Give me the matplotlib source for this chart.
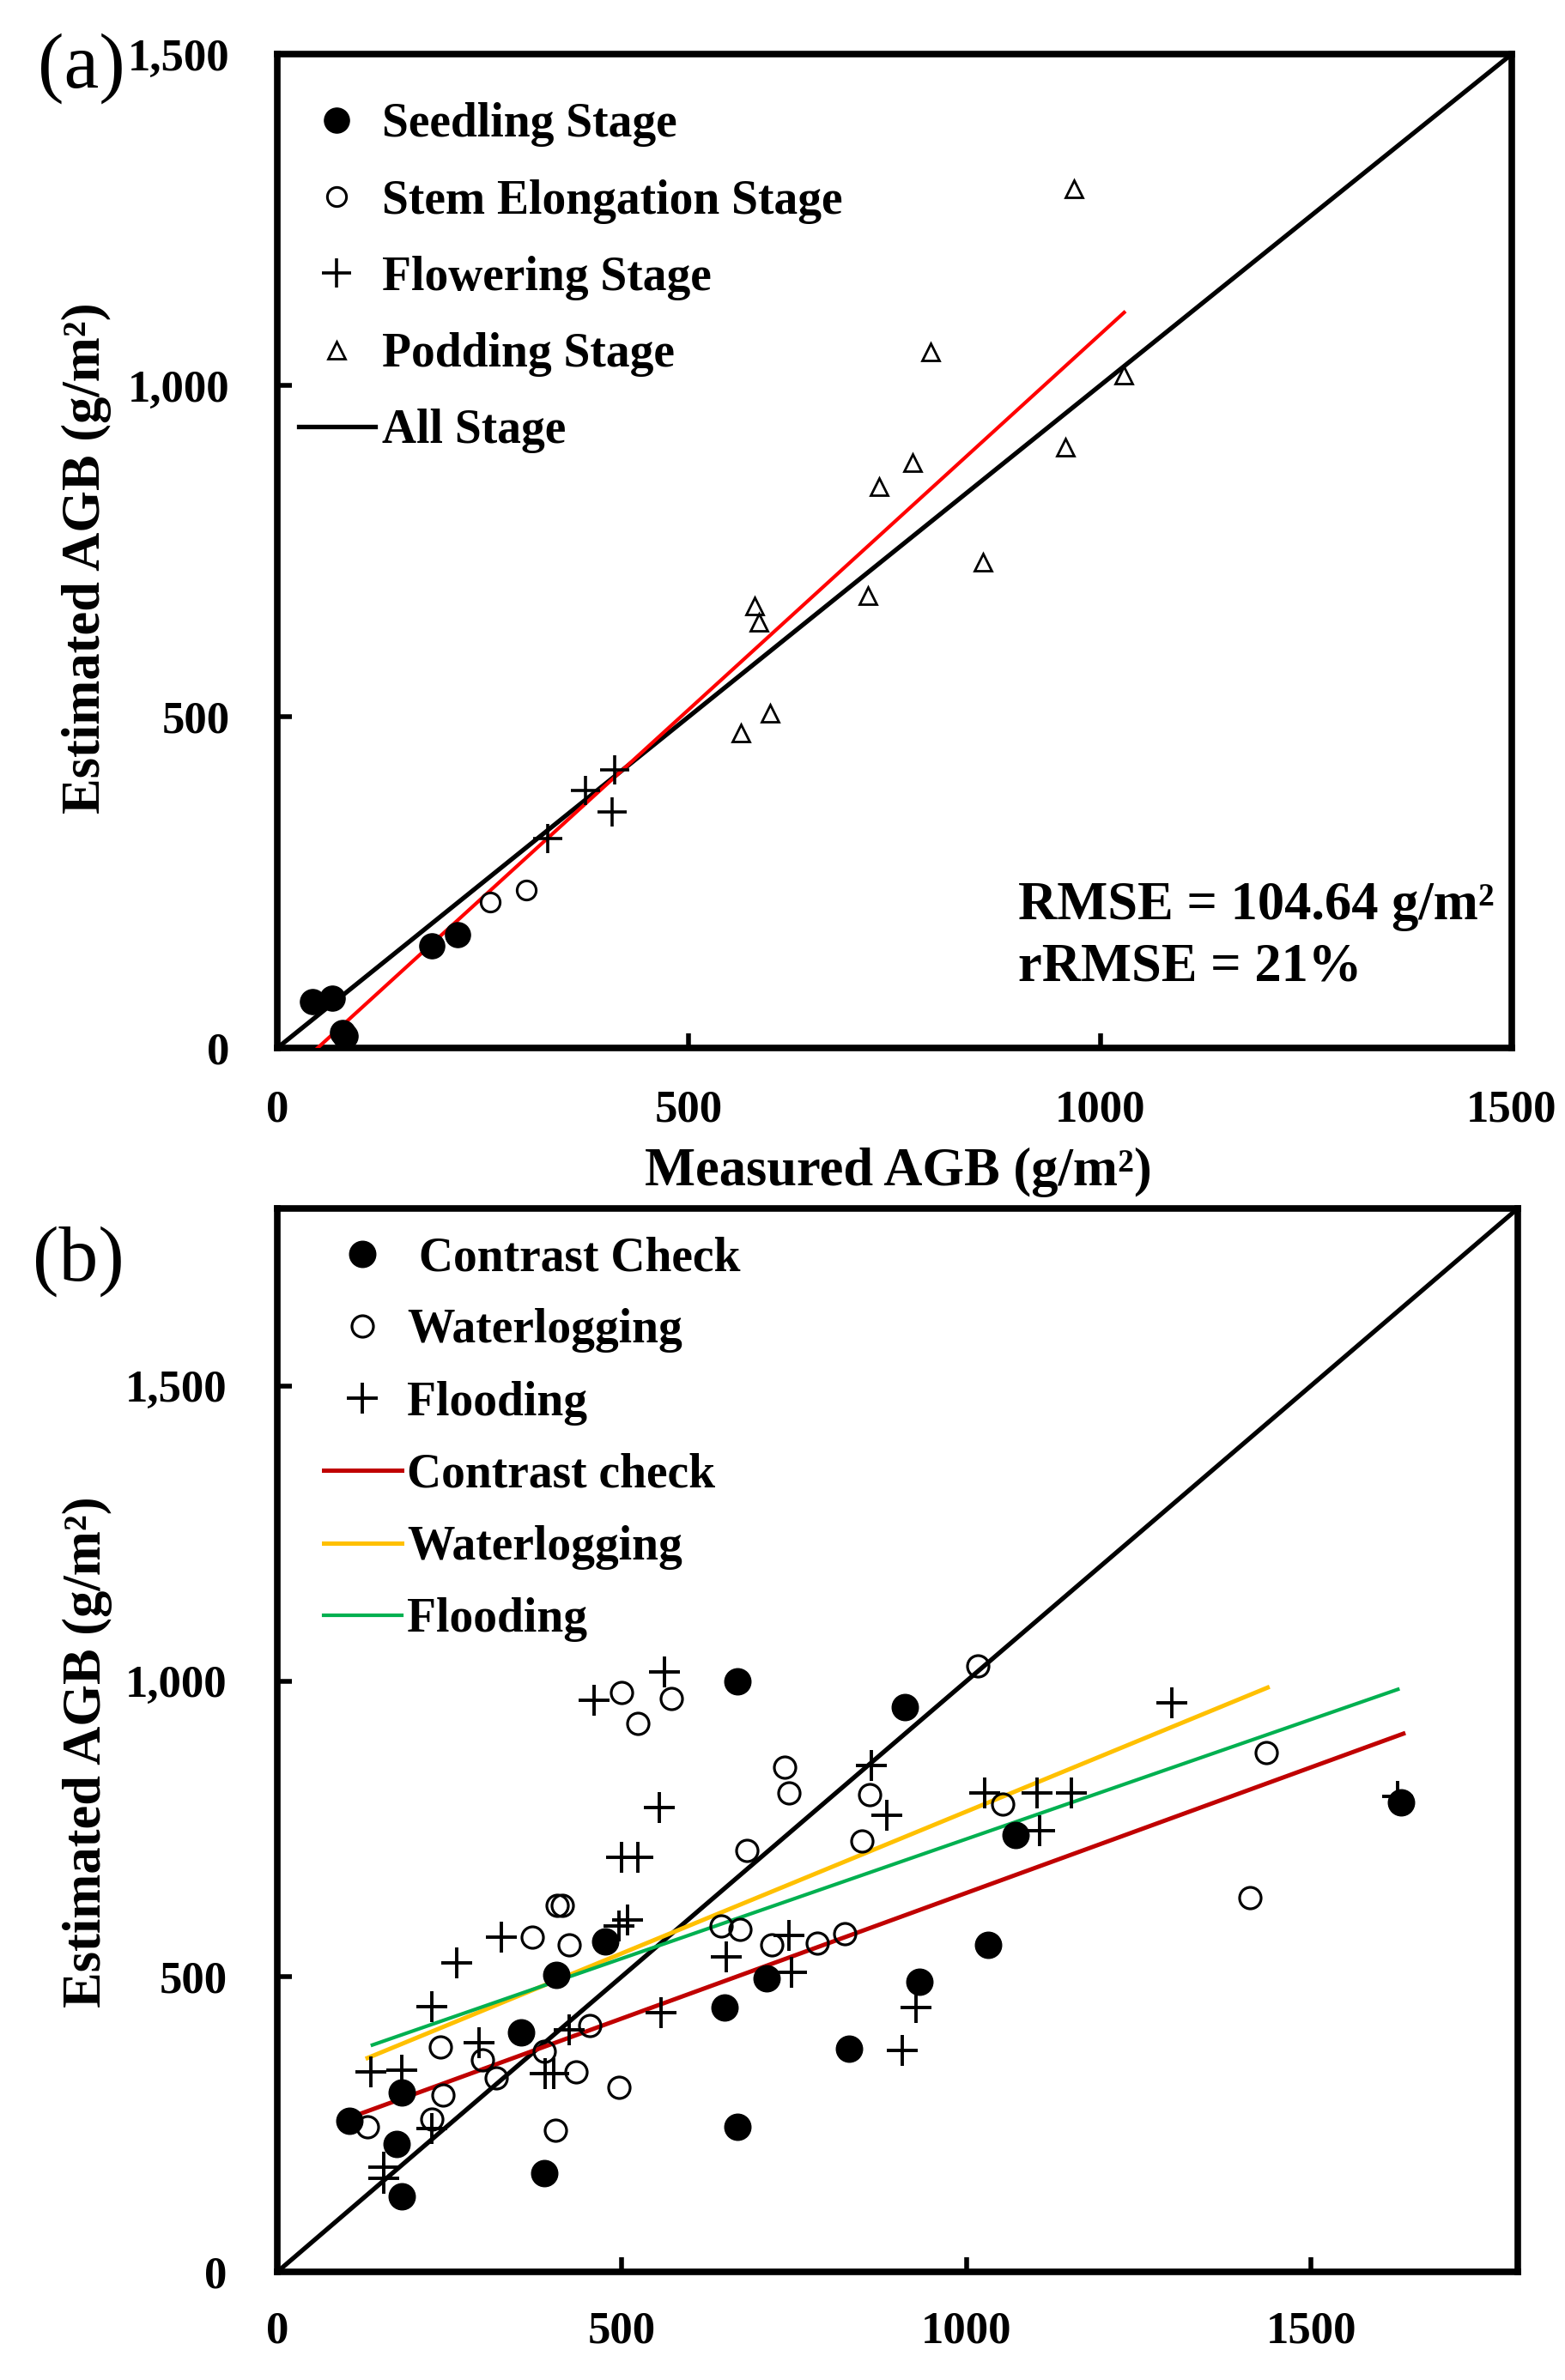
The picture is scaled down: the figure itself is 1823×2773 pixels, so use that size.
import matplotlib
matplotlib.use("Agg")
import matplotlib.pyplot as plt
from matplotlib.ticker import FuncFormatter, FixedLocator

plt.rcParams['font.family'] = ['Liberation Serif', 'DejaVu Serif']
plt.rcParams['font.weight'] = 'bold'

# ---------------- Panel (a) data ----------------
seed_x = [43, 67, 79, 82, 188, 219]
seed_y = [70, 75, 23, 18, 154, 171]
stem_x = [259, 302]
stem_y = [220, 238]
flow_x = [329, 374, 410, 407]
flow_y = [316, 389, 420, 356]
pod_x = [563, 599, 580, 585, 718, 731, 772, 794, 857, 958, 1028, 968]
pod_y = [476, 505, 667, 642, 682, 847, 884, 1050, 733, 907, 1015, 1296]
fit_a_x = [49, 1029]
fit_a_y = [0, 1110]
ref_a = [0, 1500]
ticks_a = [0, 500, 1000, 1500]
rmse_lines = ['RMSE = 104.64 g/m²', 'rRMSE = 21%']

# ---------------- Panel (b) data ----------------
cc_x = [105, 180, 173, 180, 354, 388, 405, 476, 649, 668, 668, 710, 830, 910, 932, 1031, 1071, 1631]
cc_y = [255, 303, 216, 128, 406, 167, 503, 559, 447, 999, 246, 497, 378, 956, 491, 553, 740, 795]
wl_x = [131, 224, 237, 240, 298, 318, 370, 388, 404, 406, 414, 424, 433, 454, 496, 499, 523,
        572, 644, 671, 682, 717, 736, 743, 784, 824, 848, 859, 1016, 1052, 1411, 1435]
wl_y = [245, 259, 381, 300, 359, 329, 566, 374, 239, 621, 621, 553, 339, 417, 313, 980, 928,
        971, 585, 579, 714, 553, 854, 811, 557, 572, 730, 808, 1025, 792, 633, 879]
fl_x = [136, 180, 155, 155, 224, 224, 260, 293, 325, 389, 401, 424, 460, 496, 508, 499, 523,
        554, 557, 562, 652, 743, 746, 862, 884, 907, 927, 1026, 1102, 1106, 1152, 1298, 1625]
fl_y = [339, 342, 177, 158, 449, 242, 523, 388, 566, 335, 335, 410, 967, 585, 595, 701, 701,
        786, 439, 1016, 533, 569, 507, 857, 773, 375, 447, 811, 811, 747, 811, 963, 805]
fit_cc_x = [105, 1634]
fit_cc_y = [261, 911]
fit_wl_x = [131, 1437]
fit_wl_y = [362, 989]
fit_fl_x = [138, 1626]
fit_fl_y = [384, 986]
ref_b = [0, 1800]
ticks_b = [0, 500, 1000, 1500]

W, H = 1824, 2773
fig = plt.figure(figsize=(W / 100, H / 100), dpi=100)

def frac(l, r, t, b):
    return [l / W, 1 - b / H, (r - l) / W, (b - t) / H]

ax1 = fig.add_axes(frac(323, 1761, 63, 1221))
ax2 = fig.add_axes(frac(323, 1768, 1408, 2647))

yfmt = FuncFormatter(lambda v, p: f"{int(v):,}")
xfmt = FuncFormatter(lambda v, p: f"{int(v)}")

def style(ax, lim, ticks, xpad, ypad):
    ax.set_xlim(lim[0], lim[1])
    ax.set_ylim(lim[0], lim[1])
    ax.xaxis.set_major_locator(FixedLocator(ticks))
    ax.yaxis.set_major_locator(FixedLocator(ticks))
    ax.xaxis.set_major_formatter(xfmt)
    ax.yaxis.set_major_formatter(yfmt)
    ax.tick_params(axis='both', direction='in', length=12, width=4, labelsize=38)
    ax.tick_params(axis='x', pad=xpad)
    ax.tick_params(axis='y', pad=ypad)
    for lab in ax.get_xticklabels() + ax.get_yticklabels():
        lab.set_fontweight('bold')
    for s in ax.spines.values():
        s.set_linewidth(5.5)
    ax.tick_params(top=False, right=False)

# ---------------- Panel (a) ----------------
style(ax1, ref_a, ticks_a, 35, 40)
ax1.plot(ref_a, ref_a, color='black', lw=3.8, label='All Stage', zorder=2)
ax1.plot(fit_a_x, fit_a_y, color='#FF0000', lw=3.0, zorder=3)
ax1.plot(seed_x, seed_y, 'o', color='black', ms=21, ls='none', label='Seedling Stage', zorder=4)
ax1.plot(stem_x, stem_y, 'o', mfc='white', mec='black', mew=2.2, ms=16, ls='none',
         label='Stem Elongation Stage', zorder=4)
ax1.plot(flow_x, flow_y, '+', color='black', mew=2.6, ms=24, ls='none',
         label='Flowering Stage', zorder=4)
ax1.plot(pod_x, pod_y, '^', mfc='white', mec='black', mew=2.0, ms=15, ls='none',
         label='Podding Stage', zorder=4)
h, l = ax1.get_legend_handles_labels()
order = [1, 2, 3, 4, 0]
ax1.legend([h[i] for i in order], [l[i] for i in order], loc='upper left',
           bbox_to_anchor=(-0.006, 0.98), frameon=False, handlelength=1.6,
           handletextpad=0.15, labelspacing=0.67, borderaxespad=0.3, borderpad=0.3,
           prop={'weight': 'bold', 'size': 40})
ax1.text(0.600, 0.1295, rmse_lines[0], transform=ax1.transAxes,
         fontsize=45, fontweight='bold', ha='left', va='baseline')
ax1.text(0.600, 0.0674, rmse_lines[1], transform=ax1.transAxes,
         fontsize=45, fontweight='bold', ha='left', va='baseline')
ax1.set_xlabel('Measured AGB (g/m²)', fontsize=45, fontweight='bold')
ax1.xaxis.set_label_coords(0.503, -0.100)
ax1.set_ylabel('Estimated AGB (g/m²)', fontsize=45, fontweight='bold')
ax1.yaxis.set_label_coords(-0.134, 0.493)
fig.text(44 / W, 1 - 80 / H, '(a)', fontsize=66, fontweight='normal', ha='left', va='center')

# ---------------- Panel (b) ----------------
style(ax2, ref_b, ticks_b, 33, 42)
ax2.plot(ref_b, ref_b, color='black', lw=3.8, zorder=2)
ax2.plot(fit_cc_x, fit_cc_y, color='#C00000', lw=3.6, label='Contrast check', zorder=3)
ax2.plot(fit_wl_x, fit_wl_y, color='#FFC000', lw=3.6, label='Waterlogging', zorder=3)
ax2.plot(fit_fl_x, fit_fl_y, color='#00B050', lw=3.0, label='Flooding', zorder=3)
ax2.plot(cc_x, cc_y, 'o', color='black', ms=22, ls='none', label=' Contrast Check', zorder=4)
ax2.plot(wl_x, wl_y, 'o', mfc='none', mec='black', mew=2.3, ms=18, ls='none',
         label='Waterlogging', zorder=4)
ax2.plot(fl_x, fl_y, '+', color='black', mew=2.8, ms=26, ls='none', label='Flooding', zorder=4)
h, l = ax2.get_legend_handles_labels()
order = [3, 4, 5, 0, 1, 2]
ax2.legend([h[i] for i in order], [l[i] for i in order], loc='upper left',
           bbox_to_anchor=(0.014, 1.001), frameon=False, handlelength=1.65,
           handletextpad=0.1, labelspacing=0.58, borderaxespad=0.3, borderpad=0.3,
           prop={'weight': 'bold', 'size': 40})
ax2.set_ylabel('Estimated AGB (g/m²)', fontsize=45, fontweight='bold')
ax2.yaxis.set_label_coords(-0.133, 0.489)
fig.text(38 / W, 1 - 1470 / H, '(b)', fontsize=66, fontweight='normal', ha='left', va='center')

fig.savefig('out.png', dpi=100)
